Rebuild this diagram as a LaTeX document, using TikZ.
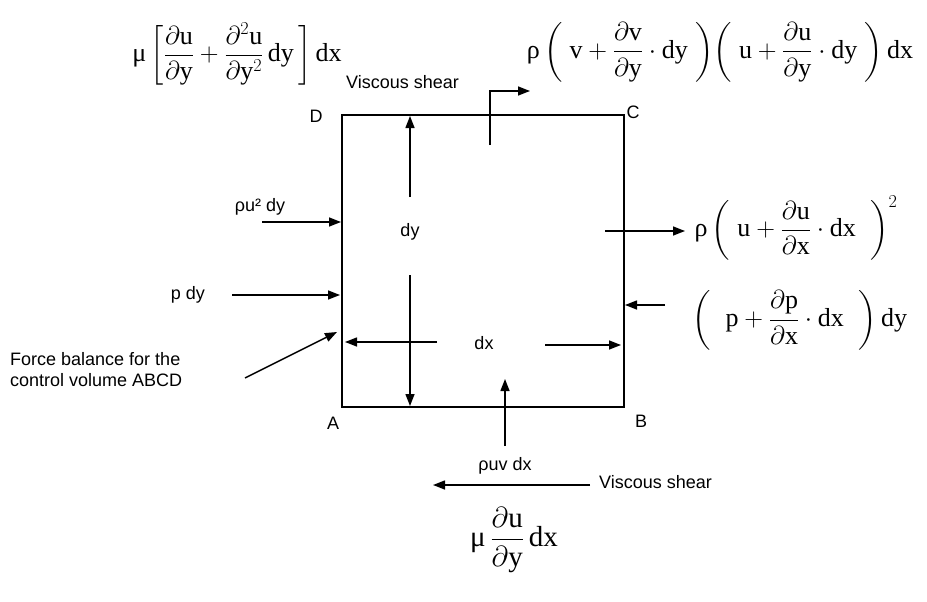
\documentclass[tikz,border=0pt]{standalone}
\usepackage{fix-cm}
\usepackage{amsmath}
\usepackage{fontspec}
\setmainfont{Liberation Serif}
\setsansfont{Liberation Sans}
\usetikzlibrary{arrows.meta}
\begin{document}
\begin{tikzpicture}[x=1pt,y=-1pt,
  lab/.style={font=\sffamily\fontsize{18}{21}\selectfont, inner sep=1pt},
  eq/.style={font=\fontsize{26}{30}\selectfont, inner sep=0pt},
  arr/.style={line width=1.4pt, -{Triangle[length=12pt,width=9pt]}},
  ln/.style={line width=1.4pt}]
\useasboundingbox[fill=white] (0,0) rectangle (927,602);
% box corners
\coordinate (A) at (342,407);
\coordinate (B) at (624,407);
\coordinate (C) at (624,115);
\coordinate (D) at (342,115);
\draw[ln] (A) -- (B) -- (C) -- (D) -- cycle;
\node[lab] (lA) at (333,423) {A};
\node[lab] (lB) at (641,421) {B};
\node[lab] (lC) at (633,112) {C};
\node[lab] (lD) at (316,116) {D};
% dy / dx dimension arrows
\node[lab] (dy) at (410,232) {dy};
\coordinate (dyU0) at (410,197); \coordinate (dyU1) at (410,116);
\coordinate (dyD0) at (410,275); \coordinate (dyD1) at (410,406);
\draw[arr] (dyU0) -- (dyU1);
\draw[arr] (dyD0) -- (dyD1);
\node[lab] (dx) at (484,343) {dx};
\coordinate (dxL0) at (437,342); \coordinate (dxL1) at (345,342);
\coordinate (dxR0) at (545,345); \coordinate (dxR1) at (621,345);
\draw[arr] (dxL0) -- (dxL1);
\draw[arr] (dxR0) -- (dxR1);
% top viscous shear bent arrow
\coordinate (vs0) at (490,145); \coordinate (vs1) at (490,91); \coordinate (vs2) at (530,91);
\draw[arr] (vs0) -- (vs1) -- (vs2);
\node[lab,anchor=west] (vsTop) at (345,82) {Viscous shear};
% left side forces
\node[lab] (ru2) at (260,207) {ρu² dy};
\coordinate (ru0) at (262,222); \coordinate (ru1) at (341,222);
\draw[arr] (ru0) -- (ru1);
\node[lab] (pdy) at (188,295) {p dy};
\coordinate (pd0) at (232,295); \coordinate (pd1) at (340,295);
\draw[arr] (pd0) -- (pd1);
\node[lab,align=left,anchor=west] (fb) at (9,370) {Force balance for the\\control volume ABCD};
\coordinate (fb0) at (245,378); \coordinate (fb1) at (337,332);
\draw[arr] (fb0) -- (fb1);
% right side forces
\coordinate (r10) at (605,231); \coordinate (r11) at (685,231);
\draw[arr] (r10) -- (r11);
\coordinate (r20) at (665,305); \coordinate (r21) at (625,305);
\draw[arr] (r20) -- (r21);
% bottom
\coordinate (b0) at (505,446); \coordinate (b1) at (505,379);
\draw[arr] (b0) -- (b1);
\node[lab] (ruv) at (505,466) {ρuv dx};
\coordinate (bs0) at (590,485); \coordinate (bs1) at (433,485);
\draw[arr] (bs0) -- (bs1);
\node[lab,anchor=west] (vsBot) at (598,482) {Viscous shear};
% equations
\node[eq] (eqTL) at (237,54) {$\mbox{μ}\left[\dfrac{\partial\mathrm{u}}{\partial\mathrm{y}}+\dfrac{\partial^2\mathrm{u}}{\partial\mathrm{y}^2}\,\mathrm{dy}\,\right]\mathrm{dx}$};
\node[eq] (eqTR) at (720,52) {$\mbox{ρ}\left(\;\mathrm{v}+\dfrac{\partial\mathrm{v}}{\partial\mathrm{y}}\cdot\mathrm{dy}\;\right)\!\left(\;\mathrm{u}+\dfrac{\partial\mathrm{u}}{\partial\mathrm{y}}\cdot\mathrm{dy}\;\right)\mathrm{dx}$};
\node[eq] (eqR1) at (796,228) {$\mbox{ρ}\left(\;\mathrm{u}+\dfrac{\partial\mathrm{u}}{\partial\mathrm{x}}\cdot\mathrm{dx}\;\;\right)^{2}$};
\node[eq] (eqR2) at (800,320) {$\left(\;\;\mathrm{p}+\dfrac{\partial\mathrm{p}}{\partial\mathrm{x}}\cdot\mathrm{dx}\;\;\right)\mathrm{dy}$};
\node[eq,font=\fontsize{29}{33}\selectfont] (eqB) at (514,540) {$\mbox{μ}\,\dfrac{\partial\mathrm{u}}{\partial\mathrm{y}}\,\mathrm{dx}$};
\end{tikzpicture}
\end{document}
